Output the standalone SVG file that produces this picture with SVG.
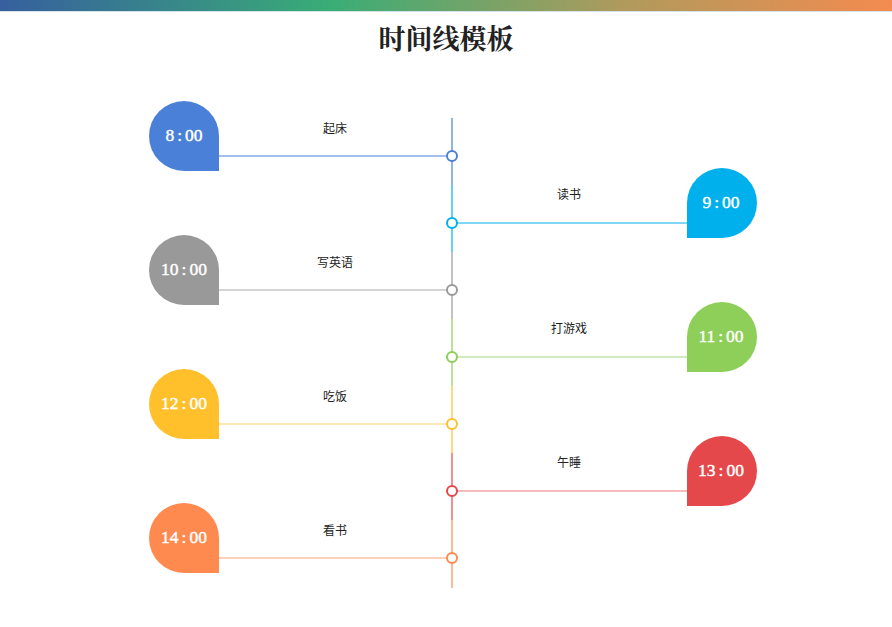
<svg xmlns="http://www.w3.org/2000/svg" width="892" height="627" viewBox="0 0 892 627">
<defs>
<linearGradient id="bar" x1="0" y1="0" x2="1" y2="0">
<stop offset="0" stop-color="#365f9e"/>
<stop offset="0.37" stop-color="#39ad76"/>
<stop offset="0.7" stop-color="#b09a5c"/>
<stop offset="1" stop-color="#f48b50"/>
</linearGradient>
</defs>
<style>
.time{font-family:"Liberation Serif",serif;font-size:17.5px;fill:#fff;stroke:#fff;stroke-width:0.45;text-anchor:middle;dominant-baseline:central}
.lbl{font-family:"Noto Sans CJK SC","Liberation Sans",sans-serif;font-size:12px;fill:#222;text-anchor:middle;dominant-baseline:central}
.dot{fill:#fff;stroke-width:2}
.ln{stroke-width:1.2;fill:none}
</style>
<rect x="0" y="0" width="892" height="11" fill="url(#bar)"/>
<rect x="0" y="11" width="892" height="1" fill="#d6e2ea"/>
<text x="446" y="37" font-family="'Noto Serif CJK SC','Liberation Serif','Noto Sans CJK SC',serif" font-size="27" font-weight="bold" fill="#222" text-anchor="middle" dominant-baseline="central">时间线模板</text>
<g id="connectors">
<line x1="452" y1="118" x2="452" y2="185" stroke="#4a80d8" class="ln"/>
<line x1="452" y1="185" x2="452" y2="252" stroke="#00b0ec" class="ln"/>
<line x1="452" y1="252" x2="452" y2="319" stroke="#999999" class="ln"/>
<line x1="452" y1="319" x2="452" y2="386" stroke="#8dcf58" class="ln"/>
<line x1="452" y1="386" x2="452" y2="453" stroke="#ffc02c" class="ln"/>
<line x1="452" y1="453" x2="452" y2="520" stroke="#e5484a" class="ln"/>
<line x1="452" y1="520" x2="452" y2="588" stroke="#ff8a50" class="ln"/>
<line x1="219" y1="156" x2="452" y2="156" stroke="#4a80d8" class="ln"/>
<line x1="452" y1="223" x2="687" y2="223" stroke="#00b0ec" class="ln"/>
<line x1="219" y1="290" x2="452" y2="290" stroke="#aaaaaa" class="ln"/>
<line x1="452" y1="357" x2="687" y2="357" stroke="#a6d77c" class="ln"/>
<line x1="219" y1="424" x2="452" y2="424" stroke="#ffcf6a" class="ln"/>
<line x1="452" y1="491" x2="687" y2="491" stroke="#ec7a7a" class="ln"/>
<line x1="219" y1="558" x2="452" y2="558" stroke="#ffa47a" class="ln"/>
</g>
<g id="n1">
<path d="M219 171 H184 A35 35 0 1 1 219 136 Z" fill="#4a80d8"/>
<text x="184" y="135" class="time">8<tspan dx="3">:</tspan><tspan dx="3">00</tspan></text>
<text x="335" y="127" class="lbl">起床</text>
<circle cx="452" cy="156" r="5" class="dot" stroke="#4a80d8"/>
</g>
<g id="n2">
<path d="M687 238 H722 A35 35 0 1 0 687 203 Z" fill="#00b0ec"/>
<text x="721" y="202" class="time">9<tspan dx="3">:</tspan><tspan dx="3">00</tspan></text>
<text x="569" y="193" class="lbl">读书</text>
<circle cx="452" cy="223" r="5" class="dot" stroke="#00b0ec"/>
</g>
<g id="n3">
<path d="M219 305 H184 A35 35 0 1 1 219 270 Z" fill="#999999"/>
<text x="184" y="269" class="time">10<tspan dx="3">:</tspan><tspan dx="3">00</tspan></text>
<text x="335" y="261" class="lbl">写英语</text>
<circle cx="452" cy="290" r="5" class="dot" stroke="#999999"/>
</g>
<g id="n4">
<path d="M687 372 H722 A35 35 0 1 0 687 337 Z" fill="#8dcf58"/>
<text x="721" y="336" class="time">11<tspan dx="3">:</tspan><tspan dx="3">00</tspan></text>
<text x="569" y="327" class="lbl">打游戏</text>
<circle cx="452" cy="357" r="5" class="dot" stroke="#8dcf58"/>
</g>
<g id="n5">
<path d="M219 439 H184 A35 35 0 1 1 219 404 Z" fill="#ffc02c"/>
<text x="184" y="403" class="time">12<tspan dx="3">:</tspan><tspan dx="3">00</tspan></text>
<text x="335" y="395" class="lbl">吃饭</text>
<circle cx="452" cy="424" r="5" class="dot" stroke="#ffc02c"/>
</g>
<g id="n6">
<path d="M687 506 H722 A35 35 0 1 0 687 471 Z" fill="#e5484a"/>
<text x="721" y="470" class="time">13<tspan dx="3">:</tspan><tspan dx="3">00</tspan></text>
<text x="569" y="461" class="lbl">午睡</text>
<circle cx="452" cy="491" r="5" class="dot" stroke="#e5484a"/>
</g>
<g id="n7">
<path d="M219 573 H184 A35 35 0 1 1 219 538 Z" fill="#ff8a50"/>
<text x="184" y="537" class="time">14<tspan dx="3">:</tspan><tspan dx="3">00</tspan></text>
<text x="335" y="529" class="lbl">看书</text>
<circle cx="452" cy="558" r="5" class="dot" stroke="#ff8a50"/>
</g>
</svg>
